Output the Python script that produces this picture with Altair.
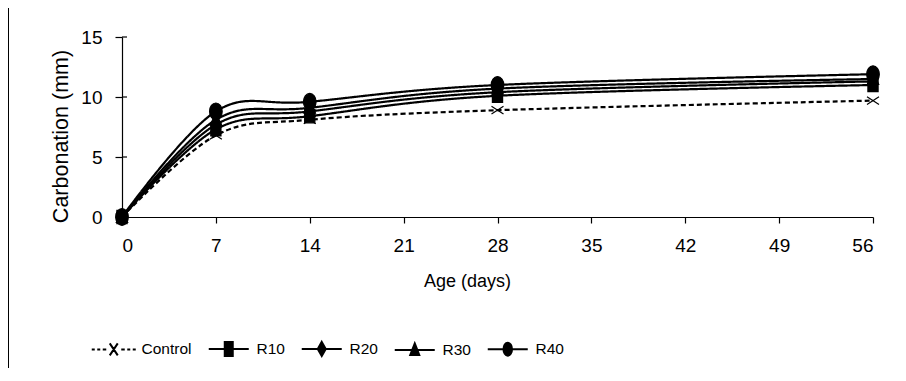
import altair as alt
import pandas as pd

days = [0, 7, 14, 28, 56]
series_names = ["Control", "R10", "R20", "R30", "R40"]
control = [0.0, 6.8, 8.1, 8.9, 9.7]
r10 = [0.0, 7.3, 8.4, 10.1, 11.0]
r20 = [0.0, 7.7, 8.8, 10.4, 11.3]
r30 = [0.0, 8.1, 9.1, 10.7, 11.5]
r40 = [0.0, 8.8, 9.6, 11.0, 11.9]
x_ticks = [0, 7, 14, 21, 28, 35, 42, 49, 56]
y_ticks = [0, 5, 10, 15]

values = {"Control": control, "R10": r10, "R20": r20, "R30": r30, "R40": r40}
draw_rank = {"Control": 0, "R20": 1, "R30": 2, "R40": 3, "R10": 4}
rows = []
for s in series_names:
    for d, v in zip(days, values[s]):
        rows.append({"series": s, "day": d, "value": v, "rank": draw_rank[s]})
df = pd.DataFrame(rows)
df_points = df.sort_values(["rank", "day"]).reset_index(drop=True)

FONT = "Liberation Sans"

x_enc = alt.X("day:Q", scale=alt.Scale(domain=[0, 56], nice=False, zero=False),
              axis=alt.Axis(values=x_ticks, title="Age (days)", tickSize=6,
                            labelPadding=13, titlePadding=17, titleX=345,
                            titleFontSize=18))
y_enc = alt.Y("value:Q", scale=alt.Scale(domain=[0, 15], nice=False),
              axis=alt.Axis(values=y_ticks, title="Carbonation (mm)", tickSize=7,
                            labelPadding=13, titlePadding=8, titleY=99,
                            titleFontSize=21.5))

dash_scale = alt.Scale(domain=series_names, range=[[5, 3], [1, 0], [1, 0], [1, 0], [1, 0]])

lines = alt.Chart(df).mark_line(interpolate="cardinal", color="black", strokeWidth=2.2).encode(
    x=x_enc, y=y_enc,
    strokeDash=alt.StrokeDash("series:N", scale=dash_scale, legend=None),
    detail="series:N",
    order=alt.Order("day:Q"),
)

marker_shapes = [
    "M-1,-0.65L1,0.65M-1,0.65L1,-0.65",
    "M-0.85,-1.1H0.85V1.1H-0.85Z",
    "M0,-1.2L0.75,0L0,1.2L-0.75,0Z",
    "M0,-1.2L0.95,0.9H-0.95Z",
    "M-1.05,0A1.05,1.4,0,1,1,1.05,0A1.05,1.4,0,1,1,-1.05,0Z",
]

points = alt.Chart(df_points).mark_point(filled=True, color="black", stroke="black",
                                         strokeWidth=1.2, opacity=1, size=144).encode(
    x="day:Q", y="value:Q",
    shape=alt.Shape("series:N", scale=alt.Scale(domain=series_names, range=marker_shapes), legend=None),
)

legend_shapes = [
    "M-4.4,0H-3.8M-3.3,0H-2.7M-2.2,0H-1.5M1.5,0H2.2M2.7,0H3.3M3.8,0H4.4M-0.8,-1.2L0.8,1.2M-0.8,1.2L0.8,-1.2",
    "M-4,0H4M-0.8,-1.4H0.8V1.4H-0.8Z",
    "M-4,0H4M0,-1.4L0.8,0L0,1.4L-0.8,0Z",
    "M-4,0H4M0,-1.3L0.9,1H-0.9Z",
    "M-4,0H4M-0.85,0A0.85,1.3,0,1,1,0.85,0A0.85,1.3,0,1,1,-0.85,0Z",
]

legend_layer = alt.Chart(df).mark_point(filled=True, color="black", fill="black", stroke="black",
                                        strokeWidth=2, opacity=0).encode(
    x="day:Q", y="value:Q",
    shape=alt.Shape("series:N",
                    scale=alt.Scale(domain=series_names, range=legend_shapes),
                    legend=alt.Legend(title=None, orient="none", direction="horizontal",
                                      legendX=-16, legendY=304, symbolSize=100,
                                      symbolOpacity=1, symbolStrokeWidth=2,
                                      labelOffset=20, columnPadding=12,
                                      labelFont=FONT, labelFontSize=15.5,
                                      labelColor="black")),
)

tick_df = pd.DataFrame({"v": y_ticks})
inner_ticks = alt.Chart(tick_df).mark_rule(color="black", strokeWidth=1.2).encode(
    y="v:Q", x=alt.value(0), x2=alt.value(5)
)

border_df = pd.DataFrame({"k": [0]})
border = alt.Chart(border_df).mark_rect(fill=None, fillOpacity=0, stroke="black", strokeWidth=1).encode(
    x=alt.value(-113.5), x2=alt.value(820), y=alt.value(-29.5), y2=alt.value(500)
)

chart = alt.layer(border, lines, points, legend_layer, inner_ticks).resolve_scale(
    shape="independent"
).properties(
    width=751, height=180,
    autosize=alt.AutoSizeParams(type="none"),
    padding={"left": 114, "top": 29, "right": 20, "bottom": 151},
).configure_view(stroke=None).configure_axis(
    grid=False, domainColor="black", domainWidth=1.2, tickColor="black", tickWidth=1.2,
    labelFont=FONT, labelFontSize=19, labelColor="black",
    titleFont=FONT, titleFontWeight="normal", titleColor="black",
)

chart.save("out.html", embed_options={"renderer": "svg", "actions": False})
